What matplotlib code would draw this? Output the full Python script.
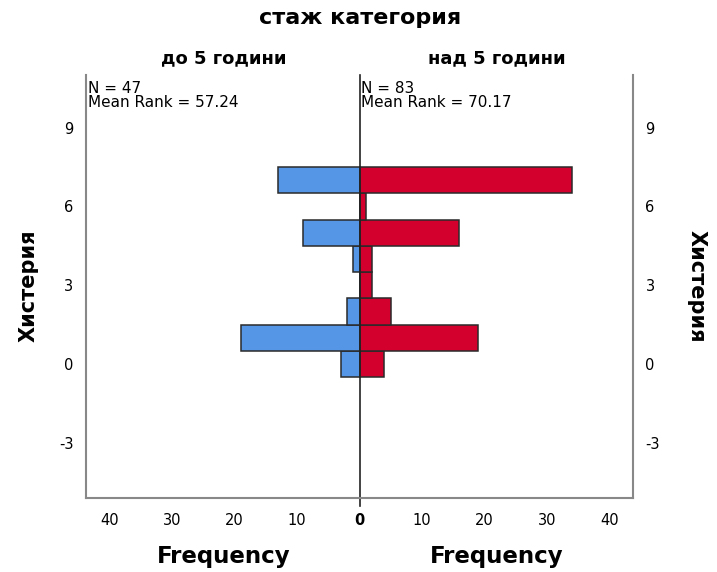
import numpy as np
from matplotlib import pyplot as plt

plt.rcParams['font.family'] = ['DejaVu Sans']
plt.rcParams['axes.unicode_minus'] = False

# histogram of the score, split by work experience group
scores = [0, 1, 2, 3, 4, 5, 6, 7]
freq_short = [3, 19, 2, 0, 1, 9, 0, 13]    # до 5 години
freq_long = [4, 19, 5, 2, 2, 16, 1, 34]    # над 5 години

groups = ["до 5 години", "над 5 години"]
n_counts = [47, 83]
mean_ranks = [57.24, 70.17]

blue = "#5596e6"
red = "#d3002d"

fig = plt.figure(figsize=(7.17, 5.72), dpi=100)
ax = fig.add_axes([86 / 717, 1 - 498 / 572, (633 - 86) / 717, (498 - 75) / 572])

ax.barh(scores, [-v for v in freq_short], height=1, color=blue,
        edgecolor="#2a2a2a", linewidth=1.1)
ax.barh(scores, freq_long, height=1, color=red,
        edgecolor="#2a2a2a", linewidth=1.1)

ax.set_xlim(-43.8, 43.8)
ax.set_ylim(-5.1, 11)

xt = [-40, -30, -20, -10, 0, 10, 20, 30, 40]
ax.set_xticks(xt)
ax.set_xticklabels([str(abs(t)) for t in xt], fontsize=10.5)
ax.get_xticklabels()[4].set_fontweight("bold")
ax.tick_params(axis="x", length=0, pad=11)

ax.set_yticks([-3, 0, 3, 6, 9])
ax.tick_params(axis="y", length=0, pad=9, labelleft=True, labelright=True,
               labelsize=10.5)

for side in ["left", "right", "bottom"]:
    ax.spines[side].set_color("#888888")
    ax.spines[side].set_linewidth(1.5)
ax.spines["top"].set_visible(False)

# dividing line between the two groups
ax.plot([0, 0], [-5.4, 11], color="#222222", linewidth=1.2, clip_on=False)

for i, (n, mr) in enumerate(zip(n_counts, mean_ranks)):
    x0 = -43.5 if i == 0 else 0.3
    ax.text(x0, 10.78, "N = %d\nMean Rank = %.2f" % (n, mr), fontsize=11,
            va="top", ha="left", linespacing=0.95)

fig.text(360 / 717, 1 - 18 / 572, "стаж категория", ha="center",
         va="center", fontsize=16, fontweight="bold")
fig.text(224 / 717, 1 - 58 / 572, groups[0], ha="center", va="center",
         fontsize=13, fontweight="bold")
fig.text(497 / 717, 1 - 58 / 572, groups[1], ha="center", va="center",
         fontsize=13, fontweight="bold")

fig.text(224 / 717, 1 - 556 / 572, "Frequency", ha="center", va="center",
         fontsize=16.5, fontweight="bold")
fig.text(497 / 717, 1 - 556 / 572, "Frequency", ha="center", va="center",
         fontsize=16.5, fontweight="bold")

fig.text(29 / 717, 1 - 286 / 572, "Хистерия", ha="center", va="center",
         rotation=90, fontsize=15, fontweight="bold")
fig.text(697 / 717, 1 - 286 / 572, "Хистерия", ha="center", va="center",
         rotation=270, fontsize=15, fontweight="bold")

fig.savefig("out.png", dpi=100)
